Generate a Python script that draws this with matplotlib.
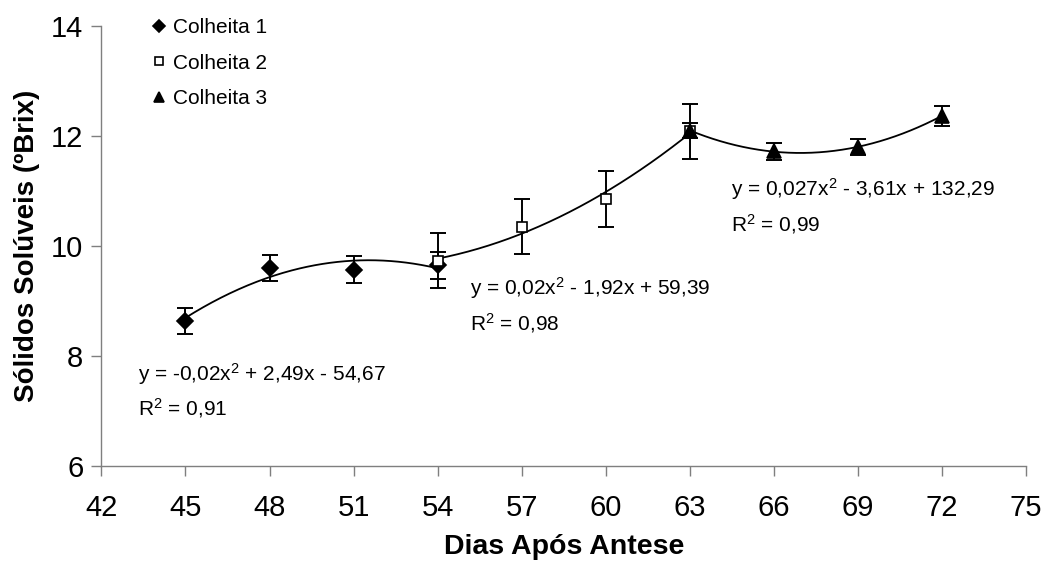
import numpy as np
import matplotlib
matplotlib.use("Agg")
import matplotlib.pyplot as plt

plt.rcParams['font.family'] = ['Liberation Sans', 'DejaVu Sans']
plt.rcParams['mathtext.fontset'] = 'custom'
plt.rcParams['mathtext.rm'] = 'Liberation Sans'
plt.rcParams['mathtext.it'] = 'Liberation Sans'

# Colheita 1
dias_c1 = [45, 48, 51, 54]
brix_c1 = [8.64, 9.60, 9.57, 9.65]
erro_c1 = [0.24, 0.24, 0.25, 0.24]

# Colheita 2
dias_c2 = [54, 57, 60, 63]
brix_c2 = [9.73, 10.35, 10.86, 12.09]
erro_c2 = [0.50, 0.50, 0.51, 0.50]

# Colheita 3
dias_c3 = [63, 66, 69, 72]
brix_c3 = [12.10, 11.72, 11.80, 12.37]
erro_c3 = [0.14, 0.16, 0.15, 0.18]

nomes = ['Colheita 1', 'Colheita 2', 'Colheita 3']
equacoes = ['y = -0,02x$^2$ + 2,49x - 54,67\nR$^2$ = 0,91',
            'y = 0,02x$^2$ - 1,92x + 59,39\nR$^2$ = 0,98',
            'y = 0,027x$^2$ - 3,61x + 132,29\nR$^2$ = 0,99']
pos_eq = [(43.3, 7.37), (55.15, 8.93), (64.45, 10.73)]

fig = plt.figure(figsize=(10.45, 5.65), dpi=100)
ax = fig.add_axes([0.097, 0.175, 0.885, 0.779])

series = [(dias_c1, brix_c1, erro_c1, 'D', 'black', 8),
          (dias_c2, brix_c2, erro_c2, 's', 'white', 7.5),
          (dias_c3, brix_c3, erro_c3, '^', 'black', 9.5)]

for (x, y, e, mk, fc, ms), nome in zip(series, nomes):
    # linha de tendencia polinomial de 2a ordem
    coef = np.polyfit(x, y, 2)
    xs = np.linspace(x[0], x[-1], 200)
    ax.plot(xs, np.polyval(coef, xs), color='black', lw=1.3, zorder=2)
    ax.errorbar(x, y, yerr=e, fmt='none', ecolor='black', elinewidth=1.4,
                capsize=6, capthick=1.4, zorder=3)
    ax.plot(x, y, ls='none', marker=mk, ms=ms, mfc=fc, mec='black',
            mew=1.2, label=nome, zorder=4)

for txt, (px, py) in zip(equacoes, pos_eq):
    ax.text(px, py, txt, fontsize=15, ha='left', va='center',
            linespacing=1.5)

ax.set_xlim(42, 75)
ax.set_ylim(6, 14)
ax.set_xticks(np.arange(42, 76, 3))
ax.set_yticks(np.arange(6, 15, 2))
ax.tick_params(labelsize=21, direction='out', length=7, color='#7f7f7f',
               width=1, pad=6)
ax.tick_params(axis='x', pad=13)
for s in ['top', 'right']:
    ax.spines[s].set_visible(False)
for s in ['left', 'bottom']:
    ax.spines[s].set_color('#7f7f7f')
    ax.spines[s].set_linewidth(1)

ax.set_xlabel('Dias Após Antese', fontsize=20.5, fontweight='bold', labelpad=9)
ax.set_ylabel('Sólidos Solúveis (ºBrix)', fontsize=20, fontweight='bold',
              labelpad=8)

ax.legend(loc='upper left', bbox_to_anchor=(0.035, 1.061), frameon=False,
          fontsize=15, handlelength=0.6, handletextpad=0.4, labelspacing=0.8,
          markerscale=0.8)

fig.savefig('out.png', dpi=100)
